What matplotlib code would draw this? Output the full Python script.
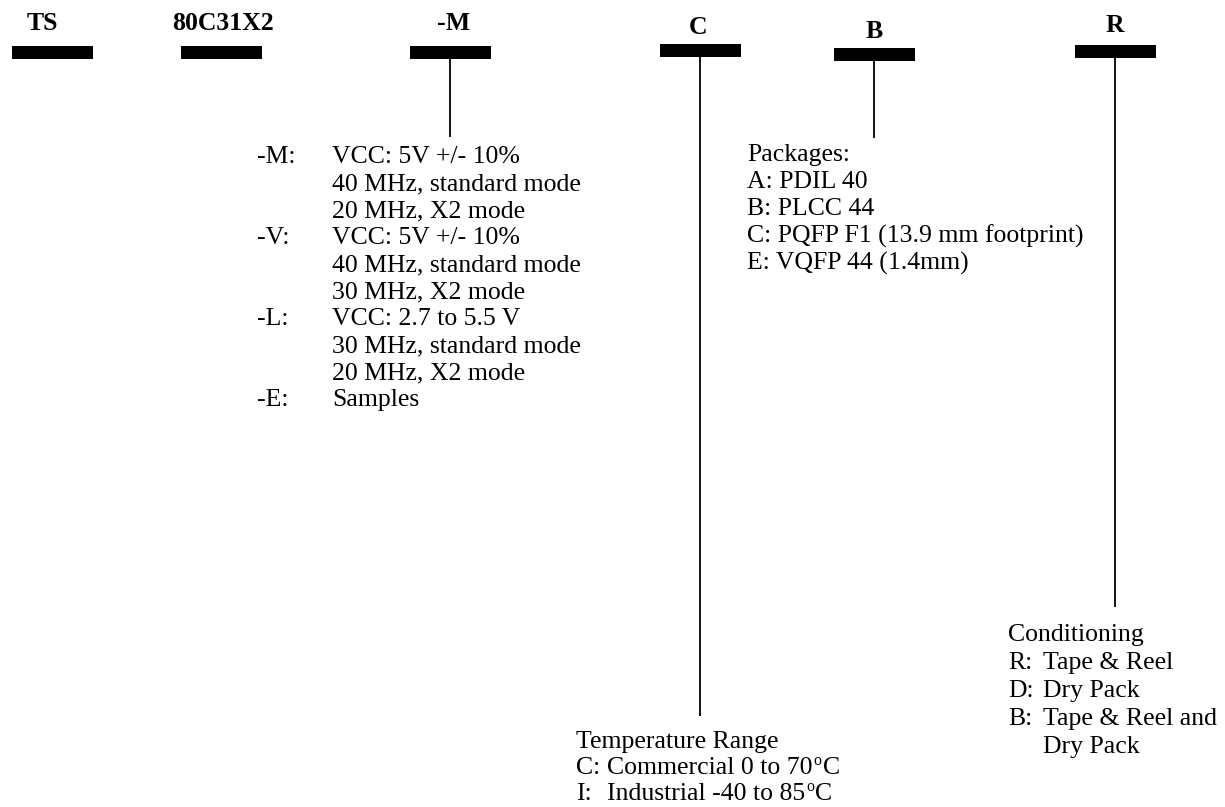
import matplotlib
matplotlib.use("Agg")
import matplotlib.pyplot as plt
from matplotlib.patches import Rectangle

plt.rcParams['font.family'] = ['Liberation Serif', 'DejaVu Serif']

# ---- data (text content) ----
codes = ["TS", "80C31X2", "-M", "C", "B", "R"]

speed_labels = ["-M:", "", "", "-V:", "", "", "-L:", "", "", "-E:"]
speed_lines = ["VCC: 5V +/- 10%", "40 MHz, standard mode", "20 MHz, X2 mode",
               "VCC: 5V +/- 10%", "40 MHz, standard mode", "30 MHz, X2 mode",
               "VCC: 2.7 to 5.5 V", "30 MHz, standard mode", "20 MHz, X2 mode",
               "Samples"]

package_lines = ["Packages:", "A: PDIL 40", "B: PLCC 44",
                 "C: PQFP F1 (13.9 mm footprint)", "E: VQFP 44 (1.4mm)"]

temp_title = "Temperature Range"
temp_labels = ["C:", "I:"]
temp_lines = ["Commercial 0 to 70", "Industrial -40 to 85"]
temp_unit = ("o", "C")

cond_title = "Conditioning"
cond_labels = ["R:", "D:", "B:", ""]
cond_lines = ["Tape & Reel", "Dry Pack", "Tape & Reel and", "Dry Pack"]

# ---- layout ----
W, H = 1225, 807
fig = plt.figure(figsize=(W / 100, H / 100), dpi=100)
ax = fig.add_axes([0, 0, 1, 1])
ax.set_xlim(0, W)
ax.set_ylim(H, 0)
ax.axis('off')
renderer = fig.canvas.get_renderer()

code_x = [42, 223, 454, 698, 874, 1115]
code_y = [22, 22, 22, 26, 30, 24]
bar_cx = [52, 221, 450, 700, 874, 1115]
bar_top = [46, 46, 46, 44, 48, 45]
bar_w, bar_h = 81, 12.5
line_end = [None, None, 137, 716, 138, 607]

HFS = 18.5
BFS = 18.5
EM = BFS * 100 / 72


def put(x, yc, s, fs, **kw):
    # place text by visual centre of capitals using baseline alignment
    return ax.text(x, yc + 0.33 * fs * 100 / 72, s, ha=kw.pop('ha', 'left'),
                   va='baseline', fontsize=fs, **kw)


def right_edge(t):
    bb = t.get_window_extent(renderer=renderer)
    return ax.transData.inverted().transform((bb.x1, bb.y0))[0]


for c, x, ty, bx, by, le in zip(codes, code_x, code_y, bar_cx, bar_top, line_end):
    put(x, ty, c, HFS, ha='center', fontweight='bold')
    ax.add_patch(Rectangle((bx - bar_w / 2, by), bar_w, bar_h, color='black', lw=0))
    if le is not None:
        ax.plot([bx, bx], [by + bar_h, le], color='black', lw=1.3, solid_capstyle='butt')

# speed grade block
sp = 27
for i, (lab, txt) in enumerate(zip(speed_labels, speed_lines)):
    y = 155 + i * sp
    if lab:
        put(257, y, lab, BFS)
    put(332, y, txt, BFS)

# packages block
for i, txt in enumerate(package_lines):
    put(747, 153 + i * sp, txt, BFS)

# temperature block
put(576, 740, temp_title, BFS)
for i, (lab, txt) in enumerate(zip(temp_labels, temp_lines)):
    y = 766 + i * 26
    put(576, y, lab, BFS)
    t = put(607, y, txt, BFS)
    xe = right_edge(t) + 1
    o = put(xe, y - 0.25 * EM, temp_unit[0], BFS * 0.62)
    xe2 = right_edge(o) + 1
    put(xe2, y, temp_unit[1], BFS)

# conditioning block
put(1008, 633, cond_title, BFS)
for i, (lab, txt) in enumerate(zip(cond_labels, cond_lines)):
    y = 661 + i * 28
    if lab:
        put(1008, y, lab, BFS)
    put(1043, y, txt, BFS)

fig.savefig("out.png", dpi=100)
